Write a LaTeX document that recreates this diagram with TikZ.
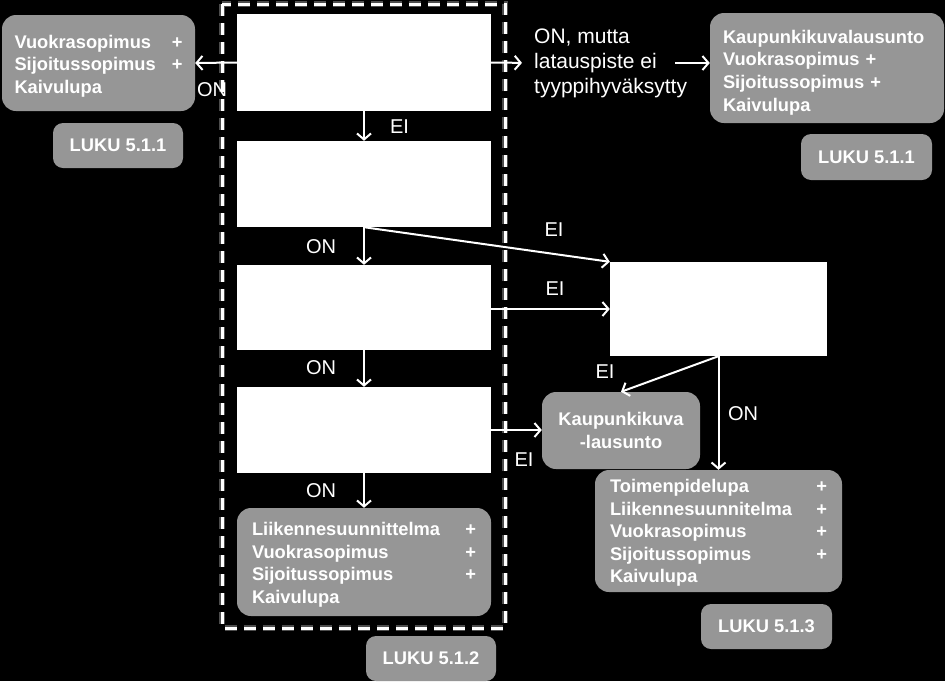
\documentclass[tikz,border=0pt]{standalone}
\usepackage{fontspec}
\setmainfont{Liberation Sans}
\usetikzlibrary{arrows.meta}
\definecolor{boxgray}{RGB}{150,150,150}
\newcommand\plusr{\hskip 0pt plus 1filll +}
\newcommand\topstrut[1]{\rule{0pt}{#1}}
\begin{document}
\begin{tikzpicture}[x=1pt,y=-1pt,
  wbox/.style={fill=white, draw=none, minimum width=254pt, inner sep=0pt},
  gbox/.style={fill=boxgray, rounded corners=14pt, text=white, font=\bfseries\fontsize{18.3}{22.6}\selectfont, inner sep=0pt, align=left},
  luku/.style={fill=boxgray, rounded corners=10pt, text=white, font=\bfseries\fontsize{18.3}{22.6}\selectfont, minimum width=130pt, minimum height=45pt, inner sep=0pt},
  lbl/.style={text=white, font=\fontsize{20}{25}\selectfont, inner sep=0pt},
  arr/.style={draw=white, line width=2pt, -{Straight Barb[length=6pt,width=14pt]}},
  dashframe/.style={draw=white, line width=3pt, dash pattern=on 12pt off 7pt}
]
\fill[black] (0,0) rectangle (945,681);
\useasboundingbox (0,0) rectangle (945,681);

% dashed frame with glow
\draw[dashframe, opacity=0.3, line width=6pt] (222,4) rectangle (505,628);
\draw[dashframe] (222,4) rectangle (505,628);

% white decision boxes
\node[wbox, minimum height=97pt] (b1) at (364,62.5) {};
\node[wbox, minimum height=86pt] (b2) at (364,184) {};
\node[wbox, minimum height=85pt] (b3) at (364,307.5) {};
\node[wbox, minimum height=86pt] (b4) at (364,430) {};
\node[wbox, minimum width=217pt, minimum height=94pt] (b5) at (718.5,309) {};

% gray result boxes
\node[gbox, minimum width=193pt, minimum height=96pt, text width=168pt] (g1) at (98.5,63)
  {\topstrut{19pt}Vuokrasopimus\plusr\\Sijoitussopimus\plusr\\Kaivulupa};
\node[luku] (l1) at (118,145.5) {LUKU 5.1.1};

\node[gbox, minimum width=234pt, minimum height=110pt, text width=208pt] (g2) at (827,68)
  {\topstrut{22pt}Kaupunkikuvalausunto\\Vuokrasopimus +\\Sijoitussopimus +\\Kaivulupa};
\node[luku, minimum width=131pt, minimum height=46pt] (l2) at (866.5,157) {LUKU 5.1.1};

\node[gbox, align=center, minimum width=158pt, minimum height=77pt] (k) at (621,430.5)
  {Kaupunkikuva\\-lausunto};

\node[gbox, minimum width=247pt, minimum height=122pt, text width=217pt] (tp) at (718.5,531)
  {\topstrut{17pt}Toimenpidelupa\plusr\\Liikennesuunnitelma\plusr\\Vuokrasopimus\plusr\\Sijoitussopimus\plusr\\Kaivulupa};
\node[luku, minimum width=131pt] (l3) at (766.5,626.5) {LUKU 5.1.3};

\node[gbox, minimum width=254pt, minimum height=108pt, text width=224pt] (lk) at (364,562)
  {\topstrut{19pt}Liikennesuunnittelma\plusr\\Vuokrasopimus\plusr\\Sijoitussopimus\plusr\\Kaivulupa};
\node[luku] (l4) at (431,658.5) {LUKU 5.1.2};

% text on the right of box 1
\node[lbl, font=\fontsize{21}{25}\selectfont, align=left, anchor=west] (t) at (534,63)
  {ON, mutta\\latauspiste ei\\tyyppihyväksytty};
\coordinate (c1) at (675,63);

% connectors
\draw[arr] (b1.west) -- (g1.east);
\draw[arr, shorten >=12pt] (b1.east) -- (t.west);
\draw[arr] (c1) -- (c1 -| g2.west);
\draw[arr] (b1.south) -- (b2.north);
\draw[arr] (b2.south) -- (b3.north);
\draw[arr] (b2.south) -- (b5.north west);
\draw[arr] (b3.east |- 0,309) -- (b5.west |- 0,309);
\draw[arr] (b3.south) -- (b4.north);
\draw[arr] (b4.east) -- (b4.east -| k.west);
\draw[arr] (b4.south) -- (lk.north);
\draw[arr] (b5.south) -- (k.north);
\draw[arr] (b5.south) -- (tp.north);

% labels
\node[lbl] (on1) at (212,90) {ON};
\node[lbl] (ei1) at (399.5,127) {EI};
\node[lbl] (on2) at (321,247) {ON};
\node[lbl] (ei2) at (554,230) {EI};
\node[lbl] (ei3) at (555,289) {EI};
\node[lbl] (on3) at (321,368) {ON};
\node[lbl] (ei4) at (524,460) {EI};
\node[lbl] (ei5) at (605,372) {EI};
\node[lbl] (on4) at (743,414) {ON};
\node[lbl] (on5) at (321,491) {ON};
\end{tikzpicture}
\end{document}
